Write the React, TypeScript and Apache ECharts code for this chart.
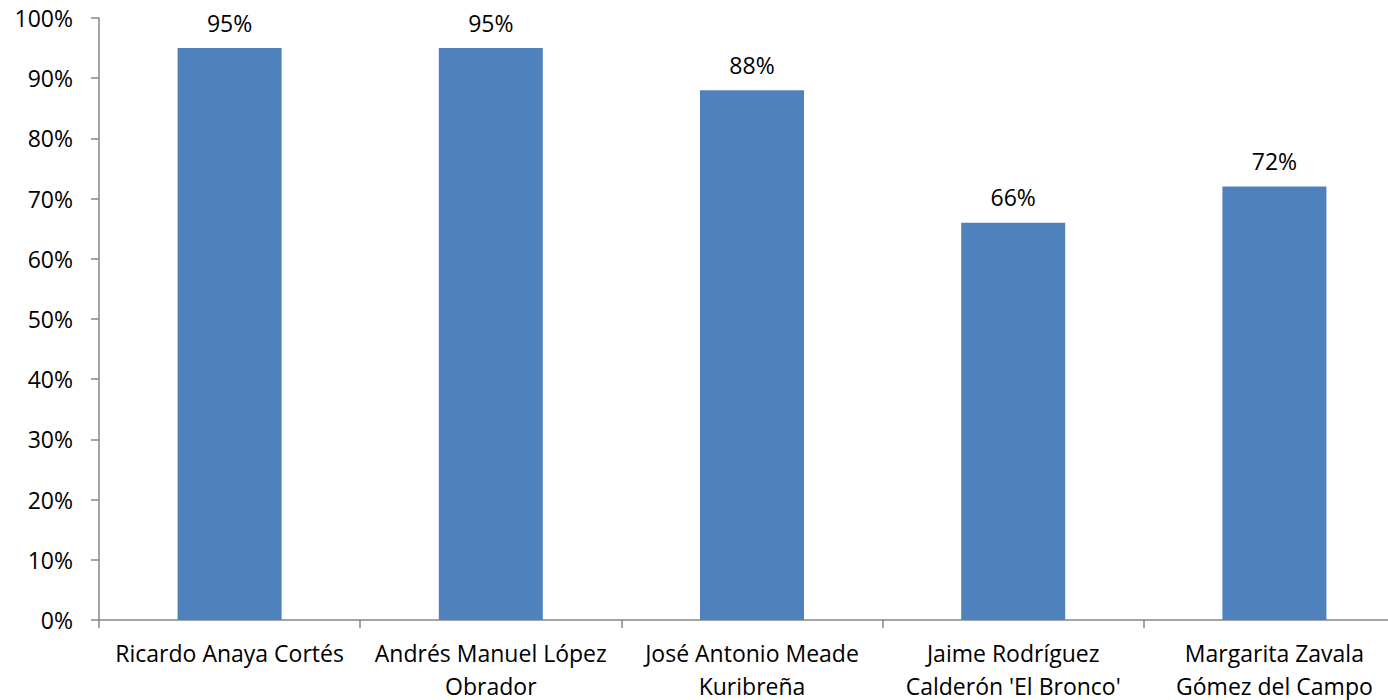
import React, { useEffect, useRef } from "react";
import * as echarts from "echarts";

const categories = [
  "Ricardo Anaya Cortés",
  "Andrés Manuel López\nObrador",
  "José Antonio Meade\nKuribreña",
  "Jaime Rodríguez\nCalderón 'El Bronco'",
  "Margarita Zavala\nGómez del Campo",
];
const values = [95, 95, 88, 66, 72];
const yTicks = { min: 0, max: 100, interval: 10 };

const FONT = "Open Sans";

export default function App() {
  const ref = useRef<HTMLDivElement>(null);
  useEffect(() => {
    if (!ref.current) return;
    const chart = echarts.init(ref.current, null, { renderer: "svg" });
    chart.setOption({
      animation: false,
      grid: { left: 99, right: 0, top: 18, bottom: 80, containLabel: false, outerBoundsMode: "none" },
      xAxis: {
        type: "category",
        data: categories,
        axisLine: { lineStyle: { color: "#868686", width: 1.5 } },
        axisTick: { show: true, length: 8, lineStyle: { color: "#868686", width: 1.5 } },
        axisLabel: {
          color: "#000",
          fontFamily: FONT,
          fontSize: 23,
          lineHeight: 33,
          margin: 16,
          interval: 0,
        },
      },
      yAxis: {
        type: "value",
        min: yTicks.min,
        max: yTicks.max,
        interval: yTicks.interval,
        splitLine: { show: false },
        axisLine: { show: true, lineStyle: { color: "#868686", width: 1.5 } },
        axisTick: { show: true, length: 8, lineStyle: { color: "#868686", width: 1.5 } },
        axisLabel: {
          color: "#000",
          fontFamily: FONT,
          fontSize: 23,
          margin: 26,
          formatter: "{value}%",
        },
      },
      series: [
        {
          type: "bar",
          data: values,
          barWidth: 104,
          itemStyle: { color: "#4F81BD" },
          label: {
            show: true,
            position: "top",
            distance: 14,
            color: "#000",
            fontFamily: FONT,
            fontSize: 23,
            formatter: "{c}%",
          },
        },
      ],
    });
    return () => chart.dispose();
  }, []);
  return (
    <div style={{ position: "fixed", left: 0, top: 0, width: 1388, height: 700, overflow: "hidden", background: "#fff" }}>
      <div ref={ref} style={{ width: 1405, height: 700 }} />
    </div>
  );
}
